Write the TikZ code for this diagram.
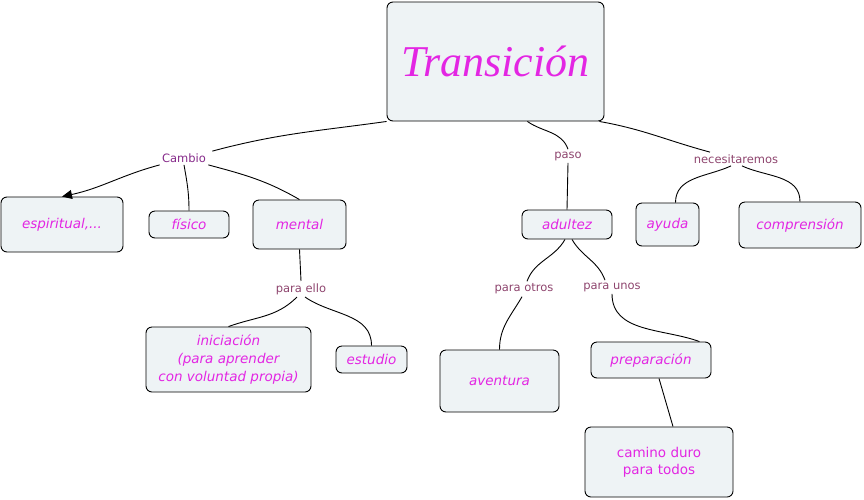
\documentclass[tikz,border=0pt]{standalone}
\usepackage{fontspec}
\setmainfont{DejaVu Sans}
\newfontfamily\titlefont{Liberation Serif}
\usetikzlibrary{arrows.meta}
\usetikzlibrary{positioning}
\definecolor{boxfill}{HTML}{EEF3F5}
\definecolor{concept}{HTML}{E326E3}
\definecolor{linktext}{HTML}{8E456E}
\definecolor{linkpurple}{HTML}{862A8A}

\begin{document}
\begin{tikzpicture}[x=1pt,y=1pt,-,>={Triangle[length=10pt,width=9pt]},line width=0.9pt,
    main node/.style={rectangle,rounded corners=6pt,draw,fill=boxfill,text=concept,align=center,inner sep=0pt,
      font=\fontsize{13.5}{18}\selectfont\itshape},
    link node/.style={text=linktext,inner sep=2pt,font=\fontsize{11.5}{14}\selectfont}]
   \useasboundingbox (0,0) rectangle (864,-499);
   % concepts
   \node[main node,minimum width=217pt,minimum height=119pt,font=\titlefont\fontsize{44}{50}\selectfont\itshape] (trans) at (495.5,-61.5) {Transición};
   \node[main node,minimum width=122pt,minimum height=55pt] (espir) at (62,-224.5) {espiritual,...};
   \node[main node,minimum width=80pt,minimum height=27pt] (fisico) at (189,-224.5) {físico};
   \node[main node,minimum width=93pt,minimum height=49pt] (mental) at (299.5,-224.5) {mental};
   \node[main node,minimum width=165pt,minimum height=65pt] (inic) at (228.5,-359.5) {iniciación\\(para aprender\\con voluntad propia)};
   \node[main node,minimum width=71pt,minimum height=27pt] (estudio) at (371.5,-359.5) {estudio};
   \node[main node,minimum width=90pt,minimum height=29pt] (adultez) at (567,-224.5) {adultez};
   \node[main node,minimum width=63pt,minimum height=43pt] (ayuda) at (667.5,-224.5) {ayuda};
   \node[main node,minimum width=122pt,minimum height=46pt] (compr) at (800,-225) {comprensión};
   \node[main node,minimum width=119pt,minimum height=62pt] (aventura) at (499.5,-381) {aventura};
   \node[main node,minimum width=120pt,minimum height=36pt] (prepar) at (651,-360) {preparación};
   \node[main node,minimum width=148pt,minimum height=70pt,font=\fontsize{13.5}{17}\selectfont] (camino) at (659,-462) {camino duro\\para todos};
   % linking phrases
   \node[link node,text=linkpurple] (cambio) at (184,-158) {Cambio};
   \node[link node] (paso) at (568,-156) {paso};
   \node[link node] (necesit) at (736,-159) {necesitaremos};
   \node[link node] (paraello) at (301,-289) {para ello};
   \node[link node] (paraotros) at (524,-289) {para otros};
   \node[link node] (paraunos) at (612,-287) {para unos};
   % connectors
   \path[-] (trans.south west) edge[out=188,in=15] ([xshift=4pt]cambio.north east);
   \path[->] (cambio.south west) edge[out=195,in=12] (espir.north);
   \path[-] (cambio.south) edge[out=-80,in=90] (fisico.north);
   \path[-] (cambio.south east) edge[out=-15,in=150] (mental.north);
   \path[-] (trans.-62) edge[out=-35,in=110] (paso.north);
   \path[-] (paso.south) edge (adultez.north);
   \path[-] (trans.-30) edge[out=-10,in=165] ([xshift=-26pt]necesit.north);
   \path[-] ([xshift=-5pt]necesit.south) edge[out=205,in=90] ([xshift=8pt]ayuda.north);
   \path[-] ([xshift=6pt]necesit.south) edge[out=-25,in=90] (compr.north);
   \path[-] (mental.south) edge (paraello.north);
   \path[-] ([xshift=-4pt]paraello.south) edge[out=225,in=20] (inic.north);
   \path[-] ([xshift=4pt]paraello.south) edge[out=-35,in=90] (estudio.north);
   \path[-] ([xshift=-2pt]adultez.south) edge[out=240,in=70] ([xshift=3pt]paraotros.north);
   \path[-] ([xshift=-2pt]paraotros.south) edge[out=240,in=90] (aventura.north);
   \path[-] ([xshift=5pt]adultez.south) edge[out=-60,in=110] ([xshift=-7pt]paraunos.north);
   \path[-] (paraunos.south) edge[out=-90,in=160] ([xshift=-12pt]prepar.north east);
   \path[-] ([xshift=8pt]prepar.south) edge ([xshift=14pt]camino.north);
\end{tikzpicture}
\end{document}
